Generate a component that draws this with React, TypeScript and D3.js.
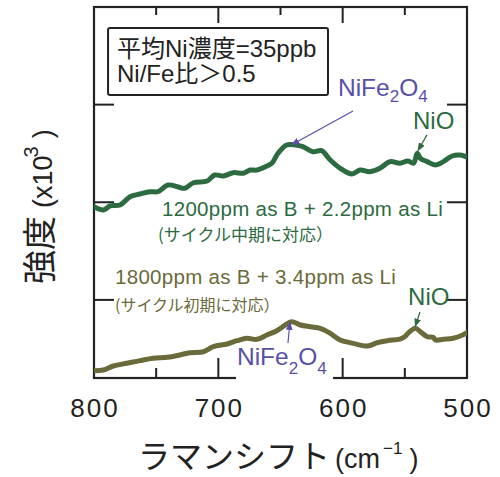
import React from "react";
import * as d3 from "d3";

// Raman shift (cm-1) and intensity (x10^3, arbitrary offset)
const midCycleShift = [800, 792.5, 787, 779, 771, 763, 755, 748.5, 740.5, 733, 727, 720, 709, 703, 696, 688, 680, 674.5, 669, 661, 657, 652, 645, 638, 632, 624, 617, 610, 602, 592.5, 586, 578, 570, 562, 554, 547.5, 543, 540, 537.5, 532, 525.5, 519, 512, 505.5, 500];
const midCycleIntensity = [17.55, 17.21, 17.62, 17.72, 18.57, 18.85, 19.08, 19.08, 19.77, 19.59, 19.43, 20.0, 20.18, 20.79, 20.69, 21.03, 20.97, 21.3, 21.3, 21.71, 21.99, 23.02, 23.87, 23.87, 23.69, 23.18, 23.28, 22.33, 21.48, 20.9, 21.3, 21.13, 21.48, 22.16, 21.99, 22.23, 21.99, 23.02, 22.5, 22.16, 21.82, 22.16, 22.74, 22.84, 22.61];

const earlyCycleShift = [800, 792.5, 784.5, 773.5, 763, 752.5, 741, 731, 723, 712, 704, 693, 685, 677, 669, 661, 653, 645, 641, 634, 626, 618, 610, 602, 591.5, 580, 572, 564, 554, 550, 547.5, 541.5, 537.5, 532, 527, 525.5, 519, 511, 503.5, 500];
const earlyCycleIntensity = [0.75, 0.82, 1.23, 1.51, 1.78, 2.02, 2.12, 2.36, 2.59, 2.69, 3.21, 3.48, 3.82, 4.07, 3.96, 4.4, 4.84, 5.53, 5.77, 5.43, 5.25, 5.09, 4.58, 3.89, 3.55, 3.28, 3.62, 3.82, 3.99, 4.23, 4.58, 5.09, 4.74, 4.23, 4.15, 3.89, 3.96, 4.07, 4.4, 4.64];

const xMajorTicks = [800, 700, 600, 500];
const xMinorTicks = [750, 650, 550];
const yTicks = [8, 18, 28];

const W = 500;
const H = 477;
const left = 94;
const right = 467;
const top = 7;
const bottom = 378;

const GREEN = "#2c6b40";
const OLIVE = "#6a6a3a";
const PURPLE = "#5a4fa8";
const INK = "#222";
const LATIN = "'Liberation Sans', 'Noto Sans CJK JP', sans-serif";
const CJK = "'Noto Sans CJK JP', 'Liberation Sans', sans-serif";

export default function App() {
  const x = d3.scaleLinear().domain([800, 500]).range([left, right]);
  const y = d3.scaleLinear().domain([0, 38]).range([bottom, top]);

  const line = d3
    .line<[number, number]>()
    .x((d) => x(d[0]))
    .y((d) => y(d[1]))
    .curve(d3.curveCatmullRom.alpha(0.5));

  const mid = midCycleShift.map((s, i) => [s, midCycleIntensity[i]] as [number, number]);
  const early = earlyCycleShift.map((s, i) => [s, earlyCycleIntensity[i]] as [number, number]);

  const arrow = (x1: number, y1: number, x2: number, y2: number, color: string, id: string) => (
    <line
      x1={x(x1)}
      y1={y(y1)}
      x2={x(x2)}
      y2={y(y2)}
      stroke={color}
      strokeWidth={1.2}
      markerEnd={`url(#${id})`}
    />
  );

  return (
    <svg width={W} height={H} style={{ position: "absolute", left: 0, top: 0, background: "#fff" }}>
      <defs>
        <clipPath id="plot">
          <rect x={left} y={top} width={right - left} height={bottom - top} />
        </clipPath>
        <marker id="headP" viewBox="0 0 10 10" refX="9" refY="5" markerWidth="7" markerHeight="7" orient="auto">
          <path d="M0,1 L10,5 L0,9 z" fill={PURPLE} />
        </marker>
        <marker id="headG" viewBox="0 0 10 10" refX="9" refY="5" markerWidth="7" markerHeight="7" orient="auto">
          <path d="M0,1 L10,5 L0,9 z" fill={GREEN} />
        </marker>
      </defs>

      {/* frame and ticks */}
      <rect x={left} y={top} width={right - left} height={bottom - top} fill="none" stroke={INK} strokeWidth={2.2} />
      {xMajorTicks.map((t) => (
        <g key={"M" + t}>
          <line x1={x(t)} x2={x(t)} y1={bottom} y2={bottom - 20} stroke={INK} strokeWidth={2} />
          <line x1={x(t)} x2={x(t)} y1={top} y2={top + 16} stroke={INK} strokeWidth={2} />
          <text
            x={x(t) + 1}
            y={417}
            textAnchor="middle"
            fontFamily={LATIN}
            fontSize={26}
            letterSpacing={2}
            fill={INK}
          >
            {t}
          </text>
        </g>
      ))}
      {xMinorTicks.map((t) => (
        <g key={"m" + t}>
          <line x1={x(t)} x2={x(t)} y1={bottom} y2={bottom - 10} stroke={INK} strokeWidth={2} />
          <line x1={x(t)} x2={x(t)} y1={top} y2={top + 8} stroke={INK} strokeWidth={2} />
        </g>
      ))}
      {yTicks.map((t) => (
        <g key={"y" + t}>
          <line x1={left} x2={left + 20} y1={y(t)} y2={y(t)} stroke={INK} strokeWidth={2} />
          <line x1={right - 20} x2={right} y1={y(t)} y2={y(t)} stroke={INK} strokeWidth={2} />
        </g>
      ))}

      {/* spectra */}
      <g clipPath="url(#plot)">
        <path d={line(mid) ?? ""} fill="none" stroke={GREEN} strokeWidth={5} strokeLinejoin="round" strokeLinecap="round" />
        <path d={line(early) ?? ""} fill="none" stroke={OLIVE} strokeWidth={5} strokeLinejoin="round" strokeLinecap="round" />
      </g>

      {/* info box */}
      <rect
        x={x(788.7)}
        y={y(35.85)}
        width={x(611.8) - x(788.7)}
        height={y(28.99) - y(35.85)}
        fill="#fff"
        stroke={INK}
        strokeWidth={2}
        rx={2}
      />
      <text x={x(781.5)} y={y(32.9)} fontFamily={LATIN} fontSize={24} fill={INK}>
        平均Ni濃度=35ppb
      </text>
      <text x={x(781.5)} y={y(30.3)} fontFamily={LATIN} fontSize={24} fill={INK}>
        Ni/Fe比＞0.5
      </text>

      {/* series captions */}
      <text x={x(745.3)} y={y(16.6)} fontFamily={LATIN} fontSize={20.5} letterSpacing={0.3} fill={GREEN}>
        1200ppm as B + 2.2ppm as Li
      </text>
      <text x={x(748.5)} y={y(14.05)} fontFamily={CJK} fontSize={17} fill={GREEN}>
        (サイクル中期に対応）
      </text>
      <text x={x(783.1)} y={y(9.6)} fontFamily={LATIN} fontSize={20.5} letterSpacing={0.3} fill={OLIVE}>
        1800ppm as B + 3.4ppm as Li
      </text>
      <text x={x(783.1)} y={y(6.9)} fontFamily={CJK} fontSize={16} fill={OLIVE}>
        (サイクル初期に対応）
      </text>

      {/* peak annotations */}
      <text x={x(603.8)} y={y(28.85)} fontFamily={LATIN} fontSize={24.5} fill={PURPLE}>
        NiFe<tspan fontSize={17} dy={6}>2</tspan>
        <tspan dy={-6}>O</tspan>
        <tspan fontSize={17} dy={6}>4</tspan>
      </text>
      {arrow(591.7, 27.35, 641, 23.9, PURPLE, "headP")}
      <text x={x(543.4)} y={y(25.5)} fontFamily={LATIN} fontSize={24} fill={GREEN}>
        NiO
      </text>
      {arrow(532.2, 24.9, 539.4, 23.3, GREEN, "headG")}

      <rect x={x(685.8)} y={y(3.07)} width={x(607.8) - x(685.8)} height={y(-0.25) - y(3.07)} fill="#fff" />
      <text x={x(685)} y={y(1.33)} fontFamily={LATIN} fontSize={24.5} fill={PURPLE}>
        NiFe<tspan fontSize={17} dy={9}>2</tspan>
        <tspan dy={-9}>O</tspan>
        <tspan fontSize={17} dy={9}>4</tspan>
      </text>
      {arrow(644, 3.58, 642.4, 5.7, PURPLE, "headP")}
      <text x={x(547.4)} y={y(7.48)} fontFamily={LATIN} fontSize={24} fill={GREEN}>
        NiO
      </text>
      {arrow(537.8, 6.76, 541.6, 5.3, GREEN, "headG")}

      {/* axis titles */}
      <text x={138} y={468} fill={INK}>
        <tspan fontFamily={CJK} fontSize={32}>ラマンシフト</tspan>
        <tspan fontFamily={LATIN} fontSize={27} dx={5}>(cm</tspan>
        <tspan fontFamily={LATIN} fontSize={17} dx={3} dy={-14}>−1</tspan>
        <tspan fontFamily={LATIN} fontSize={27} dx={7} dy={14}>)</tspan>
      </text>
      <text transform="translate(52,284) rotate(-90)" fill={INK}>
        <tspan fontFamily={CJK} fontSize={34}>強度</tspan>
        <tspan fontFamily={LATIN} fontSize={27} dx={8}>(x10</tspan>
        <tspan fontFamily={LATIN} fontSize={20} dx={-2} dy={-14}>3</tspan>
        <tspan fontFamily={LATIN} fontSize={27} dx={8} dy={14}>)</tspan>
      </text>
    </svg>
  );
}
